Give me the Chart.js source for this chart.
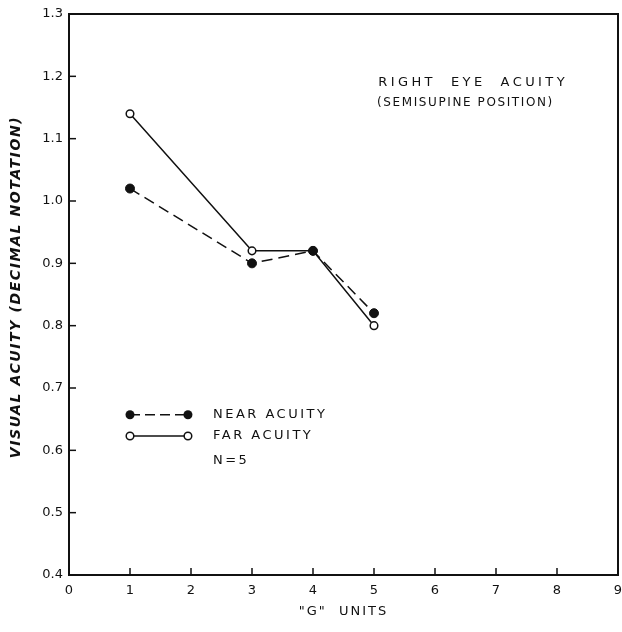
<!DOCTYPE html>
<html>
<head>
<meta charset="utf-8">
<script src="https://cdn.jsdelivr.net/npm/chart.js@4"></script>
<style>
  html, body { margin: 0; padding: 0; background: #fff; }
  #wrap { width: 622px; height: 632px; }
</style>
</head>
<body>
<div id="wrap"><canvas id="acuityChart" width="622" height="632"></canvas></div>
<script>
// Values
const gUnits = [1, 3, 4, 5];
const nearAcuity = [1.02, 0.90, 0.92, 0.82];
const farAcuity = [1.14, 0.92, 0.92, 0.80];
const xTicks = [0, 1, 2, 3, 4, 5, 6, 7, 8, 9];
const yTicks = [0.4, 0.5, 0.6, 0.7, 0.8, 0.9, 1.0, 1.1, 1.2, 1.3];
const xTitle = '"G"  UNITS';
const yTitle = 'VISUAL ACUITY (DECIMAL NOTATION)';

const FONT = '"DejaVu Sans", "Liberation Sans", sans-serif';
const INK = '#111';

// box round the plot area, ticks pointing inward, axis titles, legend and note
const paperPlugin = {
  id: 'paper',
  afterDraw(chart) {
    const { ctx, chartArea: a } = chart;
    const xs = chart.scales.x, ys = chart.scales.y;
    ctx.save();
    ctx.strokeStyle = INK;
    ctx.lineWidth = 2;
    ctx.strokeRect(a.left, a.top, a.right - a.left, a.bottom - a.top);

    ctx.lineWidth = 1.5;
    xTicks.forEach(v => {
      const px = xs.getPixelForValue(v);
      ctx.beginPath(); ctx.moveTo(px, a.bottom); ctx.lineTo(px, a.bottom - 7); ctx.stroke();
    });
    yTicks.forEach(v => {
      const py = ys.getPixelForValue(v);
      ctx.beginPath(); ctx.moveTo(a.left, py); ctx.lineTo(a.left + 7, py); ctx.stroke();
    });

    // axis titles
    ctx.fillStyle = INK;
    ctx.textBaseline = 'middle';
    ctx.textAlign = 'center';
    ctx.font = '13px ' + FONT;
    ctx.letterSpacing = '2px';
    ctx.fillText(xTitle, (a.left + a.right) / 2, 612);
    ctx.save();
    ctx.translate(16, 287);
    ctx.rotate(-Math.PI / 2);
    ctx.font = 'italic bold 14px ' + FONT;
    ctx.letterSpacing = '1.6px';
    ctx.fillText(yTitle, 0, 0);
    ctx.restore();

    // legend
    const lx0 = xs.getPixelForValue(1.0), lx1 = xs.getPixelForValue(1.95);
    const tx = xs.getPixelForValue(2.36);
    const yNear = ys.getPixelForValue(0.657);
    const yFar = ys.getPixelForValue(0.623);
    const yN = ys.getPixelForValue(0.584);

    ctx.setLineDash([10, 5]);
    ctx.beginPath(); ctx.moveTo(lx0, yNear); ctx.lineTo(lx1, yNear); ctx.stroke();
    ctx.setLineDash([]);
    ctx.beginPath(); ctx.moveTo(lx0, yFar); ctx.lineTo(lx1, yFar); ctx.stroke();
    [lx0, lx1].forEach(x => {
      ctx.beginPath(); ctx.arc(x, yNear, 4.5, 0, Math.PI * 2); ctx.fill();
      ctx.beginPath(); ctx.arc(x, yFar, 3.8, 0, Math.PI * 2);
      ctx.fillStyle = '#fff'; ctx.fill(); ctx.stroke(); ctx.fillStyle = INK;
    });

    ctx.textAlign = 'left';
    ctx.font = '13px ' + FONT;
    ctx.letterSpacing = '2.5px';
    ctx.fillText('NEAR ACUITY', tx, yNear);
    ctx.fillText('FAR ACUITY', tx, yFar);
    ctx.fillText('N=5', tx, yN);

    // note top right
    ctx.letterSpacing = '3.4px';
    ctx.fillText('RIGHT  EYE  ACUITY', xs.getPixelForValue(5.07), ys.getPixelForValue(1.19));
    ctx.font = '12px ' + FONT;
    ctx.letterSpacing = '1.6px';
    ctx.fillText('(SEMISUPINE POSITION)', xs.getPixelForValue(5.05), ys.getPixelForValue(1.157));
    ctx.restore();
  }
};

const ctx = document.getElementById('acuityChart').getContext('2d');

const acuityChart = new Chart(ctx, {
  type: 'line',
  data: {
    datasets: [
      {
        label: 'NEAR ACUITY',
        data: gUnits.map((g, i) => ({ x: g, y: nearAcuity[i] })),
        borderColor: INK,
        borderWidth: 1.5,
        borderDash: [11, 6],
        pointRadius: 4.5,
        pointBackgroundColor: INK,
        pointBorderColor: INK,
        pointBorderWidth: 1,
        tension: 0,
        fill: false
      },
      {
        label: 'FAR ACUITY',
        data: gUnits.map((g, i) => ({ x: g, y: farAcuity[i] })),
        borderColor: INK,
        borderWidth: 1.5,
        pointRadius: 3.8,
        pointBackgroundColor: '#fff',
        pointBorderColor: INK,
        pointBorderWidth: 1.5,
        tension: 0,
        fill: false
      }
    ]
  },
  options: {
    responsive: false,
    animation: false,
    events: [],
    layout: { autoPadding: false, padding: { top: 14, right: 4, left: 0, bottom: 0 } },
    plugins: { legend: { display: false }, tooltip: { enabled: false } },
    scales: {
      x: {
        type: 'linear',
        min: 0,
        max: 9,
        afterFit(scale) {
          scale.height = 57;
          scale.paddingLeft = 0;
          scale.paddingRight = 0;
        },
        afterBuildTicks(scale) { scale.ticks = xTicks.map(v => ({ value: v })); },
        grid: { display: false, drawTicks: false },
        border: { display: false },
        ticks: { color: INK, padding: 8, maxRotation: 0, font: { family: FONT, size: 13 } }
      },
      y: {
        min: 0.4,
        max: 1.3,
        afterFit(scale) { scale.width = 69; },
        afterBuildTicks(scale) { scale.ticks = yTicks.map(v => ({ value: v })); },
        grid: { display: false, drawTicks: false },
        border: { display: false },
        ticks: {
          color: INK,
          padding: 6,
          font: { family: FONT, size: 13 },
          callback: v => v.toFixed(1)
        }
      }
    }
  },
  plugins: [paperPlugin]
});
</script>
</body>
</html>
